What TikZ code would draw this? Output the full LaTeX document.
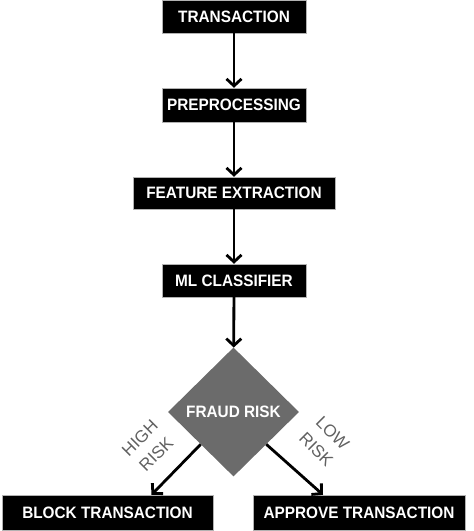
\documentclass[tikz,border=0pt]{standalone}
\usepackage{fontspec}
\setmainfont{Liberation Sans}
\newfontfamily\boxfont[FakeStretch=0.93]{Liberation Sans}
\usetikzlibrary{shapes.geometric}
\usetikzlibrary{arrows.meta}

\begin{document}
\begin{tikzpicture}[x=1pt,y=1pt,
  stepbox/.style={rectangle,fill=black,draw=gray!60,line width=0.4pt,text=white,
    font=\boxfont\bfseries\fontsize{16.5}{19}\selectfont,inner sep=0pt},
  riskbox/.style={diamond,fill=black!58,text=white,inner sep=0pt,
    minimum width=131pt,minimum height=129pt,font=\boxfont\bfseries\fontsize{16.5}{19}\selectfont},
  risklabel/.style={text=black!62,align=center,inner sep=0pt,font=\fontsize{17}{23}\selectfont},
  flow/.style={line width=2.8pt,-{Straight Barb[length=7pt,width=15pt]}}]
 \useasboundingbox (0,0) rectangle (474,531);
 % boxes down the middle
 \node[stepbox,minimum width=144pt,minimum height=33pt] (trans) at (234,514.5) {TRANSACTION};
 \node[stepbox,minimum width=144pt,minimum height=34pt] (prep) at (234,426) {PREPROCESSING};
 \node[stepbox,minimum width=202pt,minimum height=32pt] (feat) at (234,338) {FEATURE EXTRACTION};
 \node[stepbox,minimum width=144pt,minimum height=33pt] (ml) at (234,250.5) {ML CLASSIFIER};
 \node[riskbox] (fraud) at (233.5,119) {FRAUD RISK};
 % the two outcomes
 \node[stepbox,minimum width=211pt,minimum height=35pt] (block) at (107.5,18.5) {BLOCK TRANSACTION};
 \node[stepbox,minimum width=212pt,minimum height=35pt] (approve) at (359,18.5) {APPROVE TRANSACTION};
 \draw[flow](trans)--(prep);
 \draw[flow](prep)--(feat);
 \draw[flow](feat)--(ml);
 \draw[flow](ml)--(fraud);
 \draw[flow](fraud.south west)--([xshift=44pt]block.north);
 \draw[flow](fraud.south east)--([xshift=-36pt]approve.north);
 \node[risklabel,rotate=45] (high) at (148,85) {HIGH\\RISK};
 \node[risklabel,rotate=-45] (low) at (324.5,89.5) {LOW\\RISK};
\end{tikzpicture}
\end{document}
